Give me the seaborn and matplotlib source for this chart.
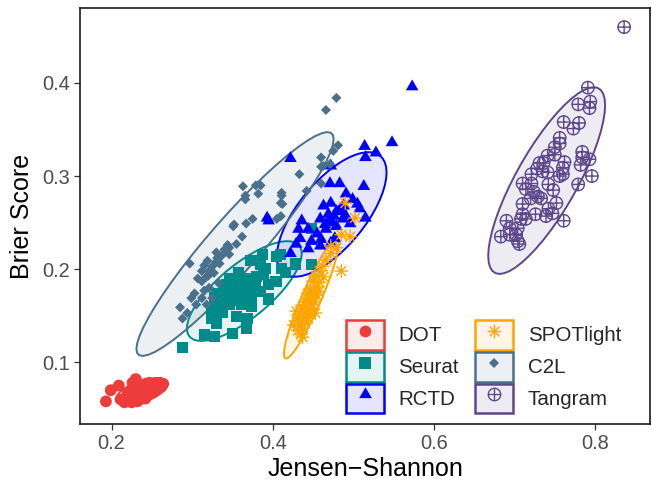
import numpy as np
import pandas as pd
import matplotlib
matplotlib.use("Agg")
import matplotlib.pyplot as plt
import seaborn as sns
from matplotlib.path import Path
from matplotlib.patches import Patch
from matplotlib.lines import Line2D
from matplotlib.legend_handler import HandlerTuple
from matplotlib.colors import to_rgba

# ---------------- data ----------------
methods = ["DOT", "Seurat", "RCTD", "SPOTlight", "C2L", "Tangram"]
colors = ["#EE3B3B", "#008B8B", "#0000FF", "#FFA500", "#4A708B", "#5D478B"]

dot_x = [0.193, 0.199, 0.209, 0.230, 0.212, 0.218, 0.222, 0.226, 0.230, 0.234, 0.238, 0.240,
         0.244, 0.248, 0.252, 0.256, 0.260, 0.264, 0.228, 0.232, 0.236, 0.241, 0.246, 0.250,
         0.254, 0.258, 0.220, 0.224, 0.228, 0.233, 0.238, 0.243, 0.247, 0.225, 0.235, 0.242,
         0.245, 0.249, 0.253, 0.216, 0.231, 0.237, 0.221, 0.239, 0.226, 0.255, 0.262,
         0.232, 0.236, 0.240, 0.244, 0.229, 0.234]
dot_y = [0.058, 0.070, 0.075, 0.082, 0.060, 0.062, 0.058, 0.065, 0.062, 0.068, 0.066, 0.072,
         0.070, 0.074, 0.076, 0.075, 0.078, 0.077, 0.060, 0.058, 0.063, 0.064, 0.068, 0.071,
         0.072, 0.073, 0.066, 0.070, 0.072, 0.074, 0.076, 0.077, 0.078, 0.057, 0.060, 0.061,
         0.065, 0.067, 0.069, 0.057, 0.070, 0.071, 0.063, 0.069, 0.078, 0.078, 0.074,
         0.066, 0.067, 0.069, 0.071, 0.064, 0.066]

seurat_x = [0.387, 0.405, 0.373, 0.385, 0.391, 0.428, 0.416, 0.404, 0.395, 0.379, 0.358, 0.368,
            0.385, 0.395, 0.340, 0.340, 0.352, 0.362, 0.374, 0.328, 0.331, 0.346, 0.361, 0.374,
            0.324, 0.337, 0.355, 0.368, 0.324, 0.330, 0.367, 0.350, 0.315, 0.328, 0.288, 0.448,
            0.448, 0.428, 0.410, 0.411, 0.358, 0.346, 0.367, 0.330, 0.356, 0.364, 0.372, 0.350,
            0.345, 0.353, 0.360, 0.380, 0.338, 0.371, 0.388, 0.343]
seurat_y = [0.216, 0.214, 0.209, 0.205, 0.201, 0.205, 0.196, 0.187, 0.184, 0.185, 0.184, 0.182,
            0.176, 0.168, 0.180, 0.169, 0.174, 0.171, 0.169, 0.169, 0.162, 0.162, 0.162, 0.160,
            0.157, 0.153, 0.149, 0.147, 0.147, 0.142, 0.136, 0.131, 0.130, 0.128, 0.116, 0.244,
            0.205, 0.206, 0.216, 0.201, 0.196, 0.190, 0.190, 0.174, 0.176, 0.180, 0.178, 0.166,
            0.176, 0.168, 0.186, 0.192, 0.160, 0.174, 0.194, 0.183]

rctd_x = [0.548, 0.514, 0.515, 0.528, 0.422, 0.472, 0.471, 0.483, 0.513, 0.491, 0.499, 0.472,
          0.463, 0.508, 0.515, 0.479, 0.469, 0.459, 0.436, 0.487, 0.432, 0.444, 0.466, 0.479,
          0.496, 0.434, 0.448, 0.460, 0.459, 0.444, 0.422, 0.472, 0.573, 0.393, 0.395, 0.477,
          0.429, 0.455, 0.485, 0.490, 0.505, 0.470, 0.476, 0.482, 0.465, 0.488, 0.474]
rctd_y = [0.336, 0.332, 0.320, 0.325, 0.319, 0.311, 0.292, 0.292, 0.289, 0.281, 0.275, 0.271,
          0.268, 0.265, 0.255, 0.262, 0.259, 0.254, 0.252, 0.254, 0.243, 0.243, 0.243, 0.246,
          0.249, 0.233, 0.230, 0.232, 0.225, 0.222, 0.217, 0.228, 0.396, 0.255, 0.252, 0.233,
          0.227, 0.238, 0.265, 0.258, 0.270, 0.252, 0.257, 0.262, 0.248, 0.268, 0.250]

spot_x = [0.490, 0.502, 0.485, 0.496, 0.472, 0.479, 0.485, 0.472, 0.466, 0.462, 0.458, 0.463,
          0.453, 0.458, 0.450, 0.455, 0.447, 0.452, 0.443, 0.450, 0.445, 0.440, 0.448, 0.442,
          0.437, 0.445, 0.439, 0.434, 0.442, 0.436, 0.431, 0.440, 0.433, 0.438, 0.431, 0.435,
          0.441, 0.447, 0.451, 0.432, 0.444, 0.457, 0.429, 0.453, 0.426, 0.437,
          0.446, 0.449, 0.454, 0.439, 0.443]
spot_y = [0.271, 0.255, 0.237, 0.235, 0.225, 0.223, 0.198, 0.217, 0.210, 0.203, 0.198, 0.192,
          0.193, 0.186, 0.187, 0.181, 0.179, 0.175, 0.174, 0.170, 0.167, 0.165, 0.162, 0.160,
          0.158, 0.156, 0.153, 0.151, 0.149, 0.146, 0.144, 0.143, 0.140, 0.137, 0.134, 0.130,
          0.155, 0.158, 0.165, 0.148, 0.147, 0.176, 0.155, 0.153, 0.140, 0.127,
          0.172, 0.168, 0.172, 0.162, 0.152]

c2l_x = [0.479, 0.466, 0.481, 0.475, 0.460, 0.463, 0.460, 0.433, 0.363, 0.379, 0.385, 0.382,
         0.366, 0.366, 0.411, 0.411, 0.410, 0.412, 0.442, 0.410, 0.405, 0.375, 0.367, 0.352,
         0.351, 0.362, 0.355, 0.346, 0.342, 0.330, 0.331, 0.346, 0.319, 0.297, 0.315, 0.312,
         0.321, 0.318, 0.307, 0.312, 0.333, 0.321, 0.315, 0.303, 0.299, 0.312, 0.325, 0.305,
         0.318, 0.285, 0.294, 0.288, 0.471, 0.460, 0.325, 0.330, 0.336, 0.340, 0.327, 0.334,
         0.320, 0.344]
c2l_y = [0.384, 0.371, 0.333, 0.327, 0.320, 0.311, 0.292, 0.302, 0.289, 0.290, 0.290, 0.281,
         0.279, 0.275, 0.282, 0.279, 0.271, 0.270, 0.284, 0.257, 0.254, 0.254, 0.249, 0.248,
         0.246, 0.235, 0.227, 0.223, 0.219, 0.218, 0.212, 0.216, 0.209, 0.206, 0.204, 0.198,
         0.198, 0.192, 0.190, 0.187, 0.185, 0.180, 0.177, 0.174, 0.169, 0.169, 0.169, 0.162,
         0.162, 0.159, 0.153, 0.147, 0.313, 0.310, 0.203, 0.208, 0.214, 0.221, 0.196, 0.206,
         0.193, 0.226]

tangram_x = [0.791, 0.779, 0.794, 0.793, 0.761, 0.773, 0.780, 0.756, 0.756, 0.750, 0.741, 0.750,
             0.731, 0.736, 0.728, 0.735, 0.741, 0.721, 0.762, 0.760, 0.760, 0.756, 0.784, 0.784,
             0.793, 0.782, 0.796, 0.779, 0.710, 0.721, 0.742, 0.748, 0.714, 0.724, 0.729, 0.733,
             0.720, 0.710, 0.752, 0.742, 0.739, 0.726, 0.747, 0.761, 0.710, 0.708, 0.714, 0.690,
             0.694, 0.704, 0.683, 0.694, 0.702, 0.706, 0.704, 0.836]
tangram_y = [0.395, 0.377, 0.380, 0.373, 0.358, 0.351, 0.357, 0.341, 0.335, 0.331, 0.322, 0.323,
             0.314, 0.314, 0.308, 0.305, 0.304, 0.302, 0.315, 0.309, 0.302, 0.300, 0.326, 0.320,
             0.318, 0.312, 0.300, 0.291, 0.292, 0.292, 0.291, 0.285, 0.286, 0.283, 0.278, 0.276,
             0.276, 0.270, 0.271, 0.265, 0.257, 0.259, 0.260, 0.252, 0.259, 0.254, 0.254, 0.252,
             0.244, 0.244, 0.235, 0.237, 0.237, 0.227, 0.230, 0.460]

xs = [dot_x, seurat_x, rctd_x, spot_x, c2l_x, tangram_x]
ys = [dot_y, seurat_y, rctd_y, spot_y, c2l_y, tangram_y]

df = pd.concat([pd.DataFrame({"js": x, "brier": y, "method": m})
                for x, y, m in zip(xs, ys, methods)], ignore_index=True)

# ---------------- markers ----------------
s2 = np.sqrt(0.5)
asterisk = Path([(-1, 0), (1, 0), (0, -1), (0, 1), (-s2, -s2), (s2, s2), (-s2, s2), (s2, -s2)],
                [Path.MOVETO, Path.LINETO] * 4)
circ = Path.unit_circle()
circle_plus = Path.make_compound_path(circ,
                                      Path([(-1, 0), (1, 0)], [Path.MOVETO, Path.LINETO]),
                                      Path([(0, -1), (0, 1)], [Path.MOVETO, Path.LINETO]))
h3 = np.sqrt(3) / 2
triangle = Path([(0, 2 * h3 / 3 * 1.0), (-0.5, -h3 / 3), (0.5, -h3 / 3), (0, 2 * h3 / 3)],
                [Path.MOVETO, Path.LINETO, Path.LINETO, Path.CLOSEPOLY])

styles = {
    "DOT": dict(marker="o", s=72, lw=0, hollow=False),
    "Seurat": dict(marker="s", s=64, lw=0, hollow=False),
    "RCTD": dict(marker=triangle, s=110, lw=0, hollow=False),
    "SPOTlight": dict(marker=asterisk, s=95, lw=1.0, hollow=True),
    "C2L": dict(marker="D", s=26, lw=0, hollow=False),
    "Tangram": dict(marker=circle_plus, s=80, lw=1.0, hollow=True),
}


# ---------------- ellipse (ggplot2 stat_ellipse, type="t", level=0.95) ----------------
def cov_trob(X, nu=5, maxit=25, tol=0.01):
    n, p = X.shape
    loc = X.mean(axis=0)
    w = np.ones(n)
    Xc = X - loc
    for _ in range(maxit):
        w0 = w
        Xc = X - loc
        _, d, vt = np.linalg.svd(np.sqrt(w / w.sum())[:, None] * Xc, full_matrices=False)
        wX = (Xc @ vt.T) / d
        Q = (wX ** 2).sum(axis=1)
        w = (nu + p) / (nu + Q)
        loc = (w[:, None] * X).sum(axis=0) / w.sum()
        if np.all(np.abs(w - w0) < tol):
            break
    sw = np.sqrt(w)[:, None] * Xc
    cov = sw.T @ sw / n
    return loc, cov


def ellipse(x, y, level=0.95, segments=51):
    X = np.column_stack([x, y])
    n = len(X)
    dfd = n - 1
    fq = dfd / 2 * ((1 - level) ** (-2 / dfd) - 1)
    radius = np.sqrt(2 * fq)
    loc, cov = cov_trob(X)
    R = np.linalg.cholesky(cov).T
    th = np.linspace(0, 2 * np.pi, segments)
    unit = np.column_stack([np.cos(th), np.sin(th)])
    return loc + radius * unit @ R


# ---------------- plot ----------------
sns.set_theme(style="white")
plt.rcParams["font.family"] = ["Liberation Sans", "DejaVu Sans"]

fig, ax = plt.subplots(figsize=(6.52, 4.82), dpi=100)
fig.subplots_adjust(left=0.1227, right=0.997, bottom=0.12, top=0.983)

all_x, all_y = list(df["js"]), list(df["brier"])
for m, c in zip(methods, colors):
    sub = df[df["method"] == m]
    e = ellipse(sub["js"].to_numpy(), sub["brier"].to_numpy())
    all_x += list(e[:, 0]); all_y += list(e[:, 1])
    ax.fill(e[:, 0], e[:, 1], facecolor=to_rgba(c, 0.1), edgecolor=c, linewidth=1.4, zorder=1)

for m, c in zip(methods, colors):
    sub = df[df["method"] == m]
    st = styles[m]
    if st["hollow"]:
        sns.scatterplot(data=sub, x="js", y="brier", ax=ax, marker=st["marker"], s=st["s"],
                        facecolor="none", edgecolor=c, linewidth=st["lw"], zorder=3, legend=False)
    else:
        sns.scatterplot(data=sub, x="js", y="brier", ax=ax, marker=st["marker"], s=st["s"],
                        color=c, edgecolor="none", linewidth=0, zorder=3, legend=False)

xmin, xmax = min(all_x), max(all_x)
ymin, ymax = min(all_y), max(all_y)
ax.set_xlim(xmin - 0.05 * (xmax - xmin), xmax + 0.05 * (xmax - xmin))
ax.set_ylim(ymin - 0.05 * (ymax - ymin), ymax + 0.05 * (ymax - ymin))
ax.set_xticks([0.2, 0.4, 0.6, 0.8])
ax.set_yticks([0.1, 0.2, 0.3, 0.4])
ax.set_xticklabels(["0.2", "0.4", "0.6", "0.8"])
ax.set_yticklabels(["0.1", "0.2", "0.3", "0.4"])
ax.tick_params(axis="both", which="major", direction="out", length=4, width=0.9,
               color="#333333", labelsize=14.4, labelcolor="#4D4D4D", pad=3,
               bottom=True, left=True)
for sp in ax.spines.values():
    sp.set_visible(True)
    sp.set_color("#1A1A1A")
    sp.set_linewidth(1.2)
ax.set_xlabel("Jensen\u2212Shannon", fontsize=18, color="black", labelpad=3)
ax.set_ylabel("Brier Score", fontsize=18, color="black", labelpad=6)
ax.grid(False)

handles = []
for m, c in zip(methods, colors):
    st = styles[m]
    ms = np.sqrt(st["s"])
    patch = Patch(facecolor=to_rgba(c, 0.1), edgecolor=c, linewidth=1.8)
    if st["hollow"]:
        pt = Line2D([], [], linestyle="none", marker=st["marker"], markersize=ms,
                    markerfacecolor="none", markeredgecolor=c, markeredgewidth=st["lw"])
    else:
        pt = Line2D([], [], linestyle="none", marker=st["marker"], markersize=ms,
                    markerfacecolor=c, markeredgecolor="none", markeredgewidth=0)
    handles.append((patch, pt))

leg = ax.legend(handles, methods, handler_map={tuple: HandlerTuple(ndivide=1)},
                ncol=2, loc="lower left", bbox_to_anchor=(0.4667, 0.026),
                frameon=False, fontsize=14.8, borderpad=0, borderaxespad=0,
                handlelength=1.85, handleheight=1.85, labelspacing=0.1,
                handletextpad=0.7, columnspacing=0.8)

fig.savefig("out.png", dpi=100)
